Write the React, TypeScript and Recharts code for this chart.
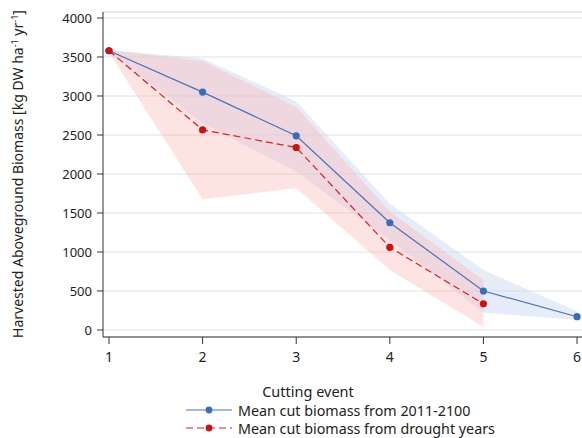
import React from 'react';
import { ComposedChart, Area, Line, XAxis, YAxis, CartesianGrid, ReferenceLine } from 'recharts';

const cuts = [1, 2, 3, 4, 5, 6];
const meanAll = [3580, 3050, 2490, 1375, 500, 170];
const lowAll = [3560, 2650, 2030, 1150, 220, 130];
const highAll = [3590, 3480, 2930, 1620, 770, 240];
const meanDrought = [3580, 2565, 2340, 1060, 335, null];
const lowDrought = [3560, 1675, 1820, 770, 40, null];
const highDrought = [3590, 3450, 2860, 1520, 640, null];
const yTicks = [0, 500, 1000, 1500, 2000, 2500, 3000, 3500, 4000];

const legendItems = [
  { label: 'Mean cut biomass from 2011-2100', color: '#4a72b8', dot: '#3a6cb8', dash: undefined },
  { label: 'Mean cut biomass from drought years', color: '#d62020', dot: '#cc1111', dash: '7 4' },
];

const X_DOMAIN = [0.936, 6.053];
const Y_DOMAIN = [-90, 4077];
const font = '"Noto Sans", sans-serif';

const data = cuts.map((c, i) => ({
  cut: c,
  all: meanAll[i],
  allBand: [lowAll[i], highAll[i]],
  drought: meanDrought[i],
  droughtBand: lowDrought[i] == null ? null : [lowDrought[i], highDrought[i]],
}));

const YLabel = () => (
  <text
    x={23}
    y={174}
    transform="rotate(-90, 23, 174)"
    textAnchor="middle"
    fontSize={14}
    fontFamily={font}
    fill="#222"
  >
    Harvested Aboveground Biomass [kg DW ha
    <tspan dy={-5} fontSize={9}>-1</tspan>
    <tspan dy={5}> yr</tspan>
    <tspan dy={-5} fontSize={9}>-1</tspan>
    <tspan dy={5}>]</tspan>
  </text>
);

const XLabel = () => (
  <text x={308} y={397} textAnchor="middle" fontSize={14.5} fontFamily={font} fill="#222">
    Cutting event
  </text>
);

export default function App() {
  return (
    <div style={{ position: 'relative', width: 582, height: 438, fontFamily: font }}>
      <style>{`body{margin:0}`}</style>
      <ComposedChart width={582} height={438} data={data} margin={{ top: 12, right: 0, bottom: 71, left: 0 }}>
        <CartesianGrid vertical={false} stroke="#e2e2e2" strokeWidth={1.2} />
        <ReferenceLine y={Y_DOMAIN[1]} stroke="#e2e2e2" strokeWidth={1.2} />
        <XAxis
          dataKey="cut"
          type="number"
          domain={X_DOMAIN}
          allowDataOverflow
          ticks={cuts}
          height={30}
          tickSize={7}
          tickMargin={8}
          stroke="#333"
          tick={{ fill: '#222', fontSize: 14, fontFamily: font }}
          label={<XLabel />}
        />
        <YAxis
          type="number"
          domain={Y_DOMAIN}
          allowDataOverflow
          ticks={yTicks}
          width={103}
          tickSize={6}
          tickMargin={5}
          stroke="#333"
          tick={{ fill: '#222', fontSize: 13, fontFamily: font }}
          label={<YLabel />}
        />
        <Area
          dataKey="allBand"
          stroke="none"
          fill="#c9d6ef"
          fillOpacity={0.45}
          isAnimationActive={false}
          activeDot={false}
        />
        <Area
          dataKey="droughtBand"
          stroke="none"
          fill="#fdb0b0"
          fillOpacity={0.35}
          isAnimationActive={false}
          activeDot={false}
        />
        <Line
          dataKey="all"
          stroke="#4a72b8"
          strokeWidth={1.2}
          dot={{ r: 3.6, fill: '#3a6cb8', stroke: 'none' }}
          isAnimationActive={false}
          activeDot={false}
        />
        <Line
          dataKey="drought"
          stroke="#d62020"
          strokeWidth={1.2}
          strokeDasharray="7 4"
          dot={{ r: 3.6, fill: '#cc1111', stroke: 'none', strokeDasharray: '' }}
          isAnimationActive={false}
          activeDot={false}
        />
      </ComposedChart>
      <div style={{ position: 'absolute', left: 186, top: 401 }}>
        {legendItems.map((it) => (
          <div key={it.label} style={{ display: 'flex', alignItems: 'center', height: 18 }}>
            <svg width={46} height={10} style={{ marginRight: 6 }}>
              <line x1={0} y1={5} x2={46} y2={5} stroke={it.color} strokeWidth={1.2} strokeDasharray={it.dash} />
              <circle cx={23} cy={5} r={3.4} fill={it.dot} />
            </svg>
            <span style={{ fontSize: 14.3, color: '#222', lineHeight: '17px' }}>{it.label}</span>
          </div>
        ))}
      </div>
    </div>
  );
}
